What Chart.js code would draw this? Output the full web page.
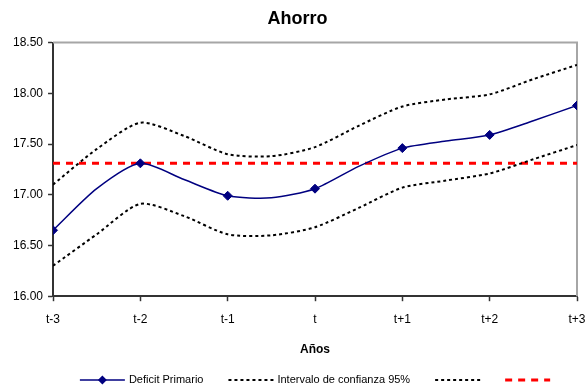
<!DOCTYPE html>
<html>
<head>
<meta charset="utf-8">
<script src="https://cdn.jsdelivr.net/npm/chart.js@4/dist/chart.umd.min.js"></script>
<style>
  html, body { margin: 0; padding: 0; background: #fff; }
</style>
</head>
<body>
<canvas id="ahorroChart" width="587" height="390"></canvas>
<script>
// Datos (x en años desde t-3, medios pasos sin marcador)
const categorias = ['t-3', 't-2', 't-1', 't', 't+1', 't+2', 't+3'];
const pasos = [0, 0.5, 1, 1.5, 2, 2.5, 3, 3.5, 4, 4.5, 5, 5.5, 6];
const deficitPrimario = [16.65, 17.06, 17.31, 17.15, 16.99, 16.97, 17.06, 17.28, 17.46, 17.53, 17.59, 17.73, 17.88];
const intervaloSup = [17.10, 17.45, 17.71, 17.58, 17.40, 17.38, 17.47, 17.68, 17.87, 17.94, 17.99, 18.14, 18.28];
const intervaloInf = [16.30, 16.61, 16.91, 16.79, 16.61, 16.60, 16.68, 16.87, 17.07, 17.14, 17.21, 17.35, 17.49];
const referenciaPasos = [0, 6];
const referencia = [17.31, 17.31];

const fuente = "'Liberation Sans', Arial, sans-serif";
const puntos = (xs, ys) => xs.map((x, i) => ({ x: x, y: ys[i] }));

// Marco gris arriba y a la derecha del área de trazado
const marcoGris = {
    id: 'marcoGris',
    beforeDatasetsDraw(chart) {
        const { ctx, chartArea: a } = chart;
        ctx.save();
        ctx.strokeStyle = '#a6a6a6';
        ctx.lineWidth = 2;
        ctx.beginPath();
        ctx.moveTo(a.left, a.top);
        ctx.lineTo(a.right, a.top);
        ctx.lineTo(a.right, a.bottom);
        ctx.stroke();
        ctx.restore();
    }
};

// Leyenda dibujada a mano (líneas largas, texto vacío en las dos últimas)
const leyenda = {
    id: 'leyenda',
    afterDraw(chart) {
        const { ctx, chartArea: a } = chart;
        const largo = 45, hueco = 4, sep = 25, y = 380;
        ctx.save();
        ctx.font = '11px ' + fuente;
        const items = chart.data.datasets.map(ds => {
            const w = ctx.measureText(ds.label).width;
            return { ds: ds, ancho: largo + (ds.label ? hueco + w : 0) };
        });
        const total = items.reduce((s, it) => s + it.ancho, 0) + sep * (items.length - 1);
        let x = (a.left + a.right) / 2 - total / 2;
        items.forEach(it => {
            const ds = it.ds;
            ctx.strokeStyle = ds.borderColor;
            ctx.lineWidth = ds.borderWidth;
            ctx.setLineDash(ds.borderDash || []);
            ctx.beginPath();
            ctx.moveTo(x, y);
            ctx.lineTo(x + largo, y);
            ctx.stroke();
            ctx.setLineDash([]);
            if (ds.pointStyle === 'rectRot') {
                const cx = x + largo / 2, r = 4.5;
                ctx.fillStyle = ds.borderColor;
                ctx.beginPath();
                ctx.moveTo(cx - r, y);
                ctx.lineTo(cx, y - r);
                ctx.lineTo(cx + r, y);
                ctx.lineTo(cx, y + r);
                ctx.closePath();
                ctx.fill();
            }
            if (ds.label) {
                ctx.fillStyle = '#000';
                ctx.textBaseline = 'middle';
                ctx.textAlign = 'left';
                ctx.fillText(ds.label, x + largo + hueco, y);
            }
            x += it.ancho + sep;
        });
        ctx.restore();
    }
};

const ctx = document.getElementById('ahorroChart').getContext('2d');
new Chart(ctx, {
    type: 'line',
    data: {
        datasets: [{
            label: 'Deficit Primario',
            data: puntos(pasos, deficitPrimario),
            borderColor: '#000080',
            backgroundColor: '#000080',
            borderWidth: 1.5,
            tension: 0.25,
            pointStyle: 'rectRot',
            pointRadius: c => Number.isInteger(pasos[c.dataIndex]) ? 4.5 : 0,
            pointBorderWidth: 1,
            pointBackgroundColor: '#000080'
        }, {
            label: 'Intervalo de confianza 95%',
            data: puntos(pasos, intervaloSup),
            borderColor: '#000',
            borderWidth: 2,
            borderDash: [3, 3],
            tension: 0.25,
            pointRadius: 0
        }, {
            label: '',
            data: puntos(pasos, intervaloInf),
            borderColor: '#000',
            borderWidth: 2,
            borderDash: [3, 3],
            tension: 0.25,
            pointRadius: 0
        }, {
            label: '',
            data: puntos(referenciaPasos, referencia),
            borderColor: '#ff0000',
            borderWidth: 3,
            borderDash: [7, 6],
            pointRadius: 0
        }]
    },
    options: {
        responsive: false,
        animation: false,
        devicePixelRatio: 1,
        layout: { padding: { left: 8, right: 0, top: 0, bottom: 33 } },
        plugins: {
            legend: { display: false },
            tooltip: { enabled: false },
            title: {
                display: true,
                text: 'Ahorro',
                color: '#000',
                font: { family: fuente, size: 18, weight: 'bold' },
                padding: { top: 8, bottom: 13 }
            }
        },
        scales: {
            x: {
                type: 'linear',
                min: 0,
                max: 6,
                afterFit: s => { s.paddingRight = 10; },
                ticks: {
                    stepSize: 1,
                    autoSkip: false,
                    maxRotation: 0,
                    color: '#000',
                    padding: 11,
                    font: { family: fuente, size: 12 },
                    callback: v => categorias[v]
                },
                grid: { drawOnChartArea: false, tickLength: 5, tickColor: '#333', tickWidth: 1.5 },
                border: { color: '#333', width: 2 },
                title: {
                    display: true,
                    text: 'Años',
                    color: '#000',
                    font: { family: fuente, size: 12, weight: 'bold' },
                    padding: { top: 5, bottom: 0 }
                }
            },
            y: {
                min: 16,
                max: 18.5,
                ticks: {
                    stepSize: 0.5,
                    color: '#000',
                    padding: 5,
                    font: { family: fuente, size: 12 },
                    callback: v => v.toFixed(2)
                },
                grid: { drawOnChartArea: false, tickLength: 5, tickColor: '#333', tickWidth: 1.5 },
                border: { color: '#333', width: 2 }
            }
        }
    },
    plugins: [marcoGris, leyenda]
});
</script>
</body>
</html>
